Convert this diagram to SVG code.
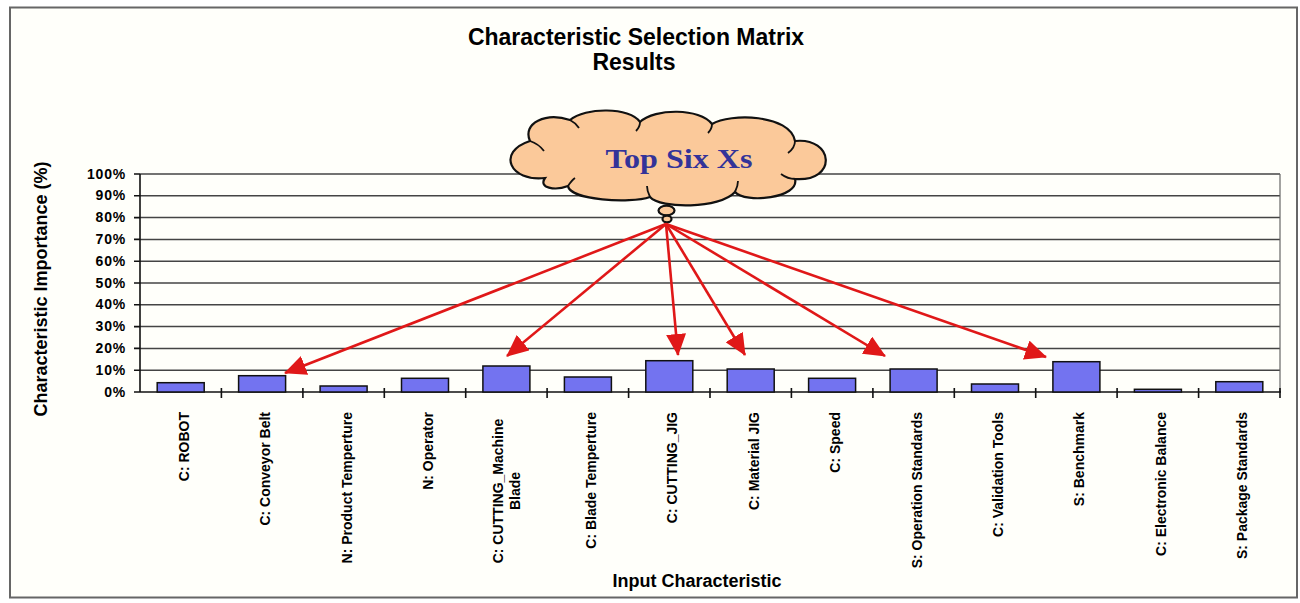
<svg xmlns="http://www.w3.org/2000/svg" width="1300" height="603" viewBox="0 0 1300 603">
<style>
.t{font-family:"Liberation Sans",Arial,sans-serif;font-weight:bold;fill:#000}
.yl{font-size:14px;text-anchor:end;letter-spacing:0.8px}
.xl{font-size:14px;text-anchor:end}
.xm{font-size:14px;text-anchor:middle}
.grid{stroke:#444;stroke-width:1.5}
.bar{fill:#7373F0;stroke:#111;stroke-width:1.5}
.arr{stroke:#E01818;stroke-width:2.6;fill:none;marker-end:url(#ah)}
.cloud{fill:#FBC99A;stroke:#111;stroke-width:2.2}
</style>
<defs>
<marker id="ah" markerUnits="userSpaceOnUse" markerWidth="22" markerHeight="20" refX="21" refY="10" orient="auto">
<path d="M0,0 L22,10 L0,20 Z" fill="#E01818"/>
</marker>
</defs>
<rect x="0" y="0" width="1300" height="603" fill="#fff"/>
<rect id="frame" x="10" y="7.5" width="1287" height="590" fill="#FFFFFA" stroke="#666" stroke-width="2"/>

<g id="title">
<text class="t" x="636" y="45" font-size="23" text-anchor="middle">Characteristic Selection Matrix</text>
<text class="t" x="634" y="70" font-size="23" text-anchor="middle">Results</text>
</g>

<g id="plot">
<line class="grid" x1="140" y1="174" x2="1280" y2="174"/>
<line class="grid" x1="140" y1="195.8" x2="1280" y2="195.8"/>
<line class="grid" x1="140" y1="217.6" x2="1280" y2="217.6"/>
<line class="grid" x1="140" y1="239.4" x2="1280" y2="239.4"/>
<line class="grid" x1="140" y1="261.2" x2="1280" y2="261.2"/>
<line class="grid" x1="140" y1="283" x2="1280" y2="283"/>
<line class="grid" x1="140" y1="304.8" x2="1280" y2="304.8"/>
<line class="grid" x1="140" y1="326.6" x2="1280" y2="326.6"/>
<line class="grid" x1="140" y1="348.4" x2="1280" y2="348.4"/>
<line class="grid" x1="140" y1="370.2" x2="1280" y2="370.2"/>
<line x1="1280" y1="174" x2="1280" y2="392" stroke="#666" stroke-width="1.2"/>
<g stroke="#111" stroke-width="1.6">
<line x1="140" y1="174" x2="140" y2="392"/>
<line x1="140" y1="392" x2="1281" y2="392"/>
<path d="M134,174H140M134,195.8H140M134,217.6H140M134,239.4H140M134,261.2H140M134,283H140M134,304.8H140M134,326.6H140M134,348.4H140M134,370.2H140M134,392H140"/>
<path d="M221.4,388V398M302.9,388V398M384.3,388V398M465.7,388V398M547.1,388V398M628.6,388V398M710,388V398M791.4,388V398M872.9,388V398M954.3,388V398M1035.7,388V398M1117.1,388V398M1198.6,388V398M1280,388V398"/>
</g>
</g>

<g id="y-labels">
<text class="t yl" x="126" y="178.5">100%</text>
<text class="t yl" x="126" y="200.3">90%</text>
<text class="t yl" x="126" y="222.1">80%</text>
<text class="t yl" x="126" y="243.9">70%</text>
<text class="t yl" x="126" y="265.7">60%</text>
<text class="t yl" x="126" y="287.5">50%</text>
<text class="t yl" x="126" y="309.3">40%</text>
<text class="t yl" x="126" y="331.1">30%</text>
<text class="t yl" x="126" y="352.9">20%</text>
<text class="t yl" x="126" y="374.7">10%</text>
<text class="t yl" x="126" y="396.5">0%</text>
<text class="t" font-size="18" text-anchor="middle" transform="translate(47,289) rotate(-90)">Characteristic Importance (%)</text>
</g>

<g id="bars">
<rect class="bar" x="157.2" y="382.7" width="47" height="9.3"/>
<rect class="bar" x="238.6" y="375.7" width="47" height="16.3"/>
<rect class="bar" x="320.1" y="386" width="47" height="6"/>
<rect class="bar" x="401.5" y="378.3" width="47" height="13.7"/>
<rect class="bar" x="482.9" y="366" width="47" height="26"/>
<rect class="bar" x="564.4" y="377" width="47" height="15"/>
<rect class="bar" x="645.8" y="360.7" width="47" height="31.3"/>
<rect class="bar" x="727.2" y="369" width="47" height="23"/>
<rect class="bar" x="808.6" y="378.3" width="47" height="13.7"/>
<rect class="bar" x="890.1" y="369" width="47" height="23"/>
<rect class="bar" x="971.5" y="384" width="47" height="8"/>
<rect class="bar" x="1052.9" y="361.7" width="47" height="30.3"/>
<rect class="bar" x="1134.4" y="389.3" width="47" height="2.7"/>
<rect class="bar" x="1215.8" y="381.7" width="47" height="10.3"/>
</g>

<g id="x-labels">
<text class="t xl" transform="translate(188.7,412) rotate(-90)">C: ROBOT</text>
<text class="t xl" transform="translate(270.1,412) rotate(-90)">C: Conveyor Belt</text>
<text class="t xl" transform="translate(351.6,412) rotate(-90)">N: Product Temperture</text>
<text class="t xl" transform="translate(433,412) rotate(-90)">N: Operator</text>
<text class="t xm" transform="translate(503,491) rotate(-90)">C: CUTTING_Machine</text>
<text class="t xm" transform="translate(520,491) rotate(-90)">Blade</text>
<text class="t xl" transform="translate(595.9,412) rotate(-90)">C: Blade Temperture</text>
<text class="t xl" transform="translate(677.3,412) rotate(-90)">C: CUTTING_JIG</text>
<text class="t xl" transform="translate(758.7,412) rotate(-90)">C: Material JIG</text>
<text class="t xl" transform="translate(840.1,412) rotate(-90)">C: Speed</text>
<text class="t xl" transform="translate(921.6,412) rotate(-90)">S: Operation Standards</text>
<text class="t xl" transform="translate(1003,412) rotate(-90)">C: Validation Tools</text>
<text class="t xl" transform="translate(1084.4,412) rotate(-90)">S: Benchmark</text>
<text class="t xl" transform="translate(1165.9,412) rotate(-90)">C: Electronic Balance</text>
<text class="t xl" transform="translate(1247.3,412) rotate(-90)">S: Package Standards</text>
<text class="t" x="697" y="587" font-size="18" text-anchor="middle">Input Characteristic</text>
</g>

<g id="cloud">
<path class="cloud" d="M545,178 C510,182 496,152 530,141 C522,123 546,112 570,120 C585,107 630,107 640,122 C655,108 700,108 712,124 C730,113 790,114 795,141 C834,137 838,182 795,179 C800,198 745,204 735,192 C720,209 660,209 650,197 C630,204 570,200 568,186 C555,191 538,188 545,178 Z"/>
<g fill="none" stroke="#111" stroke-width="1.8">
<path d="M530,141 C536,143 541,147 544,151"/>
<path d="M570,120 C574,122 577,125 579,128"/>
<path d="M640,122 C640,126 638,129 636,131"/>
<path d="M712,124 C712,128 710,131 708,133"/>
<path d="M795,141 C795,146 792,150 788,153"/>
<path d="M795,179 C790,179 785,177 781,174"/>
<path d="M735,192 C737,188 738,185 738,181"/>
<path d="M650,197 C648,193 647,190 647,186"/>
<path d="M568,186 C570,183 572,180 575,178"/>
</g>
<ellipse class="cloud" cx="666.5" cy="210.5" rx="8" ry="4.8" stroke-width="1.8"/>
<ellipse class="cloud" cx="667" cy="219" rx="4.5" ry="3.3" stroke-width="1.6"/>
<text x="679" y="168" font-family="'Liberation Serif','Times New Roman',serif" font-weight="bold" font-size="27" fill="#333399" text-anchor="middle" textLength="147" lengthAdjust="spacingAndGlyphs">Top Six Xs</text>
</g>

<g id="connectors">
<line class="arr" x1="666" y1="224" x2="285" y2="373"/>
<line class="arr" x1="666" y1="224" x2="507" y2="356"/>
<line class="arr" x1="666" y1="224" x2="678" y2="355"/>
<line class="arr" x1="666" y1="224" x2="745" y2="355"/>
<line class="arr" x1="666" y1="224" x2="885" y2="356"/>
<line class="arr" x1="666" y1="224" x2="1046" y2="357"/>
</g>
</svg>
